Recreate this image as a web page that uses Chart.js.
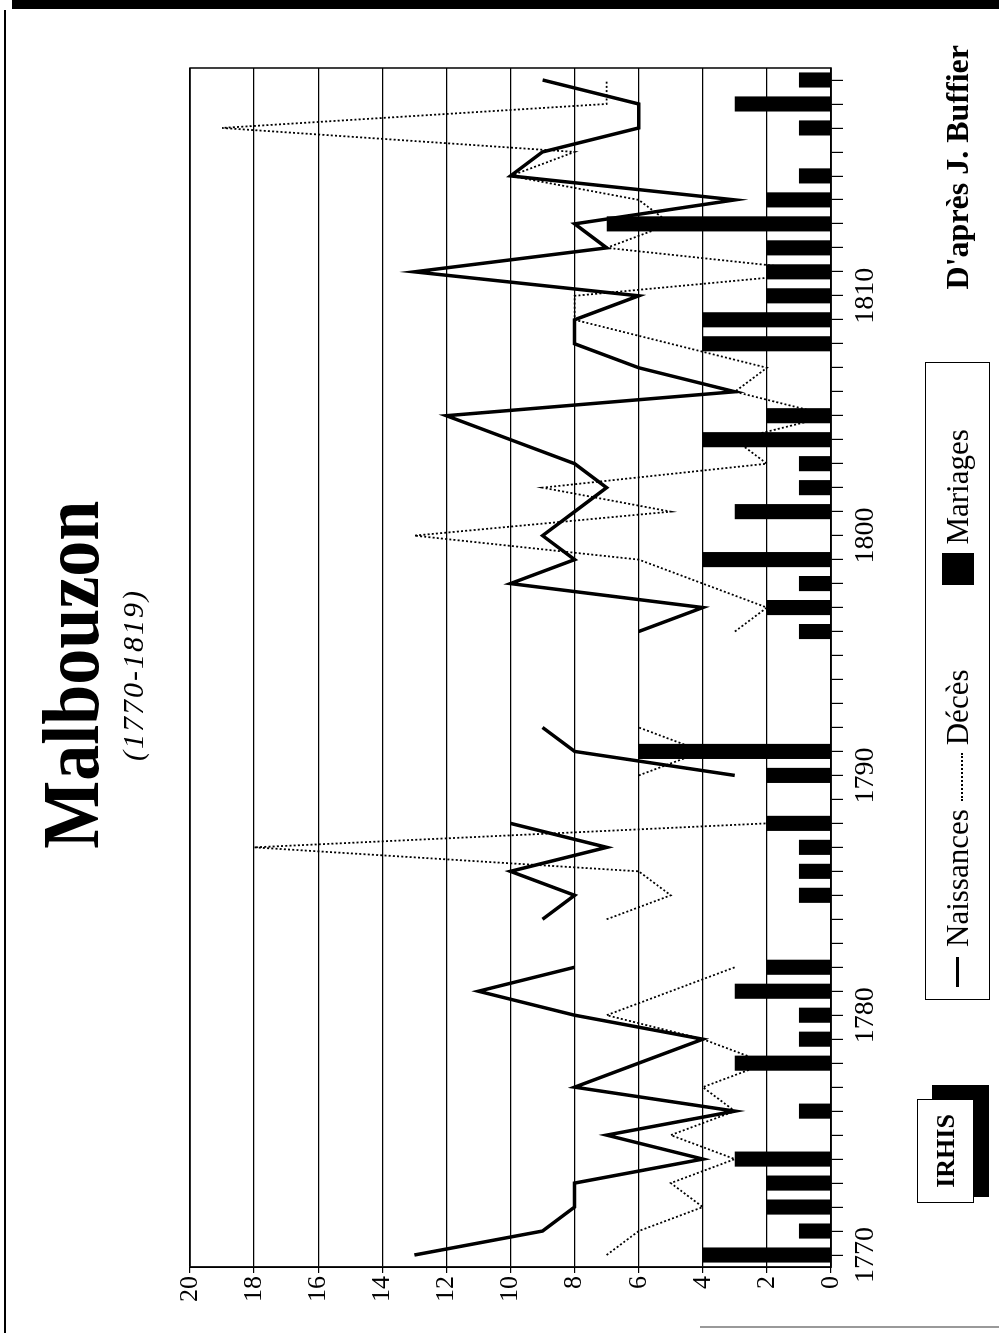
<!DOCTYPE html>
<html>
<head>
<meta charset="utf-8">
<script src="https://cdn.jsdelivr.net/npm/chart.js@4.4.1/dist/chart.umd.min.js"></script>
<style>
  html, body { margin: 0; padding: 0; background: #fff; }
  body { width: 999px; height: 1333px; position: relative; overflow: hidden; }
  /* the whole sheet is laid out landscape, then turned a quarter to the left */
  #page {
    position: absolute; left: 0; top: 0; width: 1333px; height: 999px;
    transform-origin: 0 0; transform: translate(0, 1333px) rotate(-90deg);
    font-family: "Liberation Serif", "Times New Roman", serif; color: #000;
  }
  #chart { position: absolute; left: 0; top: 0; }
  .title { position: absolute; left: 0; width: 1316px; text-align: center; }
  .legend {
    position: absolute; left: 333px; top: 925px; width: 638px; height: 65px;
    box-sizing: border-box; border: 1.5px solid #000;
    display: flex; align-items: center; font-size: 31px; padding-left: 12px;
  }
  .frame { position: absolute; background: #000; }
</style>
</head>
<body>
<div class="frame" style="left:12px;top:0;width:987px;height:9px"></div>
<div class="frame" style="left:4px;top:10px;width:2px;height:1323px"></div>
<div class="frame" style="left:700px;top:1326px;width:299px;height:2px;background:#999"></div>

<div id="page">
  <canvas id="chart" width="1333" height="999"></canvas>

  <div class="title" style="top:31px;line-height:80px;font-size:80px;font-weight:bold">
    <span style="display:inline-block;transform:scaleX(0.9)">Malbouzon</span>
  </div>
  <div class="title" style="top:118px;line-height:30px;font-size:30px;font-style:italic;letter-spacing:2px">(1770-1819)</div>

  <div style="position:absolute;right:45px;top:941px;line-height:32px;font-size:32px;font-weight:bold">D'après J. Buffier</div>

  <div class="legend">
    <span style="width:30px;height:3px;background:#000;margin-right:10px"></span>
    <span>Naissances</span>
    <span style="width:48px;border-top:2px dotted #000;margin:8px 8px 0 8px"></span>
    <span>Décès</span>
    <span style="width:32px;height:32px;background:#000;margin:0 8px 0 85px"></span>
    <span>Mariages</span>
  </div>

  <div style="position:absolute;left:136px;top:932px;width:112px;height:57px;background:#000"></div>
  <div style="position:absolute;left:130px;top:917px;width:104px;height:57px;box-sizing:border-box;border:1.5px solid #000;background:#fff;display:flex;align-items:center;justify-content:center;font-size:26px;font-weight:bold">IRHIS</div>
</div>

<script>
const years = [1770, 1771, 1772, 1773, 1774, 1775, 1776, 1777, 1778, 1779,
  1780, 1781, 1782, 1783, 1784, 1785, 1786, 1787, 1788, 1789,
  1790, 1791, 1792, 1793, 1794, 1795, 1796, 1797, 1798, 1799,
  1800, 1801, 1802, 1803, 1804, 1805, 1806, 1807, 1808, 1809,
  1810, 1811, 1812, 1813, 1814, 1815, 1816, 1817, 1818, 1819];

const naissances = [13, 9, 8, 8, 4, 7, 3, 8, 6, 4,
  8, 11, 8, null, 9, 8, 10, 7, 10, null,
  3, 8, 9, null, null, null, 6, 4, 10, 8,
  9, 8, 7, 8, 10, 12, 3, 6, 8, 8,
  6, 13, 7, 8, 3, 10, 9, 6, 6, 9];

const deces = [7, 6, 4, 5, 3, 5, 3, 4, 2, 4,
  7, 5, 3, null, 7, 5, 6, 18, 2, null,
  6, 4, 6, null, null, null, 3, 2, 4, 6,
  13, 5, 9, 2, 3, 0, 3, 2, 5, 8,
  8, 0, 7, 5, 6, 10, 8, 19, 7, 7];

const mariages = [4, 1, 2, 2, 3, 0, 1, 0, 3, 1,
  1, 3, 2, 0, 0, 1, 1, 1, 2, 0,
  2, 6, 0, 0, 0, 0, 1, 2, 1, 4,
  0, 3, 1, 1, 4, 2, 0, 0, 4, 4,
  2, 2, 2, 7, 2, 1, 0, 1, 3, 1];

const valueTicks = [0, 2, 4, 6, 8, 10, 12, 14, 16, 18, 20];
const labelledYears = [1770, 1780, 1790, 1800, 1810];

Chart.defaults.font.family = '"Liberation Serif", "Times New Roman", serif';
Chart.defaults.color = '#000';

// box round the plot
const framePlugin = {
  id: 'frame',
  afterDatasetsDraw(chart) {
    const { ctx, chartArea: a } = chart;
    ctx.save();
    ctx.strokeStyle = '#000';
    ctx.lineWidth = 1.5;
    ctx.strokeRect(a.left, a.top, a.right - a.left, a.bottom - a.top);
    ctx.restore();
  }
};

new Chart(document.getElementById('chart'), {
  type: 'bar',
  data: {
    labels: years,
    datasets: [
      {
        type: 'line',
        label: 'Naissances',
        data: naissances,
        borderColor: '#000',
        borderWidth: 3.5,
        pointRadius: 0,
        tension: 0,
        order: 0
      },
      {
        label: 'Mariages',
        data: mariages,
        backgroundColor: '#000',
        borderWidth: 0,
        categoryPercentage: 1,
        barPercentage: 0.63,
        order: 1
      },
      {
        type: 'line',
        label: 'Décès',
        data: deces,
        borderColor: '#000',
        borderWidth: 1.8,
        borderDash: [2, 2.2],
        pointRadius: 0,
        tension: 0,
        order: 2
      }
    ]
  },
  options: {
    responsive: false,
    animation: false,
    layout: { padding: { top: 190, right: 68, left: 0, bottom: 0 } },
    plugins: { legend: { display: false }, tooltip: { enabled: false } },
    scales: {
      x: {
        offset: true,
        afterFit: (scale) => { scale.height = 168; },
        grid: { offset: false, drawOnChartArea: false, tickLength: 12, color: '#000', lineWidth: 1.2 },
        border: { color: '#000', width: 1.5 },
        ticks: {
          autoSkip: false, maxRotation: 0, padding: 6,
          font: { size: 28 },
          callback(value) {
            const y = years[value];
            return labelledYears.includes(y) ? String(y) : '';
          }
        }
      },
      y: {
        min: valueTicks[0],
        max: valueTicks[valueTicks.length - 1],
        afterFit: (scale) => { scale.width = 66; },
        afterBuildTicks: (scale) => { scale.ticks = valueTicks.map(v => ({ value: v })); },
        grid: { color: '#000', lineWidth: 1.2, tickLength: 6 },
        border: { color: '#000', width: 1.5 },
        ticks: { padding: 3, font: { size: 26 } }
      }
    }
  },
  plugins: [framePlugin]
});
</script>
</body>
</html>
